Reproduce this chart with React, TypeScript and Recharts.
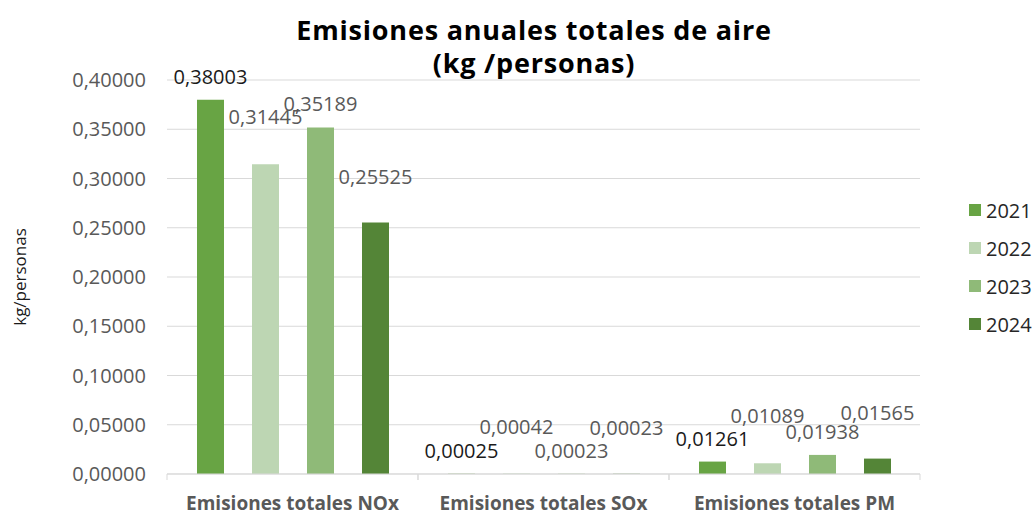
import React from "react";
import { BarChart, Bar, XAxis, YAxis, CartesianGrid, Legend, LabelList } from "recharts";

// datos (kg/personas)
const CATEGORIES = ["Emisiones totales NOx", "Emisiones totales SOx", "Emisiones totales PM"];
const YEARS = ["2021", "2022", "2023", "2024"];
const V2021 = [0.38003, 0.00025, 0.01261];
const V2022 = [0.31445, 0.00042, 0.01089];
const V2023 = [0.35189, 0.00023, 0.01938];
const V2024 = [0.25525, 0.00023, 0.01565];
const Y_TICKS = [0, 0.05, 0.1, 0.15, 0.2, 0.25, 0.3, 0.35, 0.4];

const COLORS = ["#68A444", "#BDD6B3", "#8FBA78", "#548537"];
const LABEL_COLORS = ["#1a1a1a", "#595959", "#595959", "#595959"];
// desplazamiento vertical de las etiquetas respecto a la barra
const LABEL_OFFSETS = [-23, -47, -23, -46];

const W = 1032;
const H = 517;
const MARGIN = { top: 80, right: 112, bottom: 3, left: 0 };
const Y_AXIS_W = 167;
const BAND = (W - MARGIN.right - MARGIN.left - Y_AXIS_W) / CATEGORIES.length;
const FONT = "'Open Sans', sans-serif";

const data = CATEGORIES.map((name, i) => ({
  name,
  y2021: V2021[i],
  y2022: V2022[i],
  y2023: V2023[i],
  y2024: V2024[i],
}));

const fmt = (v: number) => v.toFixed(5).replace(".", ",");

const makeLabel = (offset: number, color: string) => (props: any) => {
  const { x, y, width, value } = props;
  return (
    <text
      x={Number(x) + Number(width) / 2}
      y={Number(y) + offset + 7}
      textAnchor="middle"
      fontFamily={FONT}
      fontSize={20}
      fill={color}
    >
      {fmt(Number(value))}
    </text>
  );
};

const XTick = (props: any) => {
  const { x, y, payload } = props;
  return (
    <g>
      <line x1={x - BAND / 2} x2={x - BAND / 2} y1={y} y2={y + 6} stroke="#d9d9d9" />
      <line x1={x + BAND / 2} x2={x + BAND / 2} y1={y} y2={y + 6} stroke="#d9d9d9" />
      <text
        x={x}
        y={y + 36}
        textAnchor="middle"
        fontFamily={FONT}
        fontWeight="bold"
        fontSize={19}
        fill="#595959"
      >
        {payload.value}
      </text>
    </g>
  );
};

const LegendBox = () => (
  <div style={{ fontFamily: FONT }}>
    {YEARS.map((yr, i) => (
      <div key={yr} style={{ display: "flex", alignItems: "center", height: 38 }}>
        <div style={{ width: 12, height: 12, background: COLORS[i], marginRight: 5 }} />
        <span style={{ fontSize: 20, color: "#262626" }}>{yr}</span>
      </div>
    ))}
  </div>
);

export default function App() {
  const keys = ["y2021", "y2022", "y2023", "y2024"];
  return (
    <div style={{ position: "relative", width: W, height: H, background: "#fff" }}>
      <style>{"body{margin:0}"}</style>
      <BarChart width={W} height={H} data={data} margin={MARGIN} barSize={27} barGap={28}>
        <CartesianGrid vertical={false} stroke="#d9d9d9" />
        <XAxis
          dataKey="name"
          height={40}
          axisLine={{ stroke: "#d9d9d9" }}
          tickLine={false}
          tickSize={0}
          tickMargin={0}
          tick={<XTick />}
          interval={0}
        />
        <YAxis
          width={Y_AXIS_W}
          domain={[0, 0.4]}
          ticks={Y_TICKS}
          tickFormatter={fmt}
          axisLine={false}
          tickLine={false}
          tickSize={0}
          tickMargin={21}
          tick={{ fill: "#595959", fontSize: 20, fontFamily: FONT }}
        />
        <Legend
          layout="vertical"
          align="center"
          verticalAlign="middle"
          content={<LegendBox />}
          wrapperStyle={{ left: 969, top: 191, width: 63 }}
        />
        {keys.map((k, i) => (
          <Bar key={k} dataKey={k} name={YEARS[i]} fill={COLORS[i]} isAnimationActive={false}>
            <LabelList dataKey={k} content={makeLabel(LABEL_OFFSETS[i], LABEL_COLORS[i])} />
          </Bar>
        ))}
      </BarChart>
      <svg
        width={W}
        height={H}
        style={{ position: "absolute", left: 0, top: 0, pointerEvents: "none" }}
      >
        <text x={534} y={40} textAnchor="middle" fontFamily={FONT} fontWeight="bold" fontSize={27} letterSpacing={0.8} fill="#000">
          Emisiones anuales totales de aire
        </text>
        <text x={534} y={73} textAnchor="middle" fontFamily={FONT} fontWeight="bold" fontSize={27} letterSpacing={0.8} fill="#000">
          (kg /personas)
        </text>
        <text
          x={0}
          y={0}
          transform="translate(26,277) rotate(-90)"
          textAnchor="middle"
          fontFamily={FONT}
          fontSize={17}
          fill="#1a1a1a"
        >
          kg/personas
        </text>
      </svg>
    </div>
  );
}
